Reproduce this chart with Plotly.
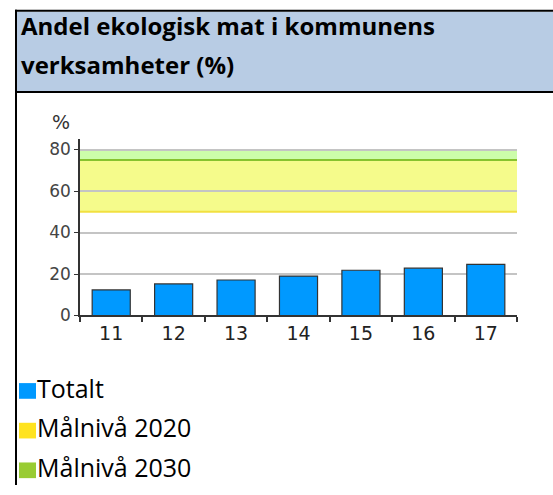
import plotly.graph_objects as go

W, H = 553, 495

# ---- data ----
years = ["11", "12", "13", "14", "15", "16", "17"]
totalt = [12.3, 15.2, 17.1, 19.0, 21.8, 22.8, 24.6]
mal_2020 = [50, 75]   # band (from, to)
mal_2030 = [75, 80]   # band (from, to)
y_ticks = [0, 20, 40, 60, 80]
legend_names = ["Totalt", "Målnivå 2020", "Målnivå 2030"]
legend_colors = ["#0099FF", "#FFE31F", "#99CC33"]
title_lines = ["Andel ekologisk mat i kommunens", "verksamheter (%)"]
unit_label = "%"


def px(x):
    return x / W


def py(y):
    return 1 - y / H


fig = go.Figure(
    go.Bar(
        x=years,
        y=totalt,
        width=0.61,
        marker=dict(color="#0099FF", line=dict(color="#333333", width=1.2)),
        showlegend=False,
        hoverinfo="x+y",
    )
)

shapes = []
# header background and borders
shapes.append(dict(type="rect", xref="paper", yref="paper",
                   x0=px(16), x1=px(553), y0=py(93), y1=py(12),
                   fillcolor="#B8CCE4", line=dict(width=0), layer="below"))
shapes.append(dict(type="line", xref="paper", yref="paper",
                   x0=px(15), x1=px(553), y0=py(11), y1=py(11),
                   line=dict(color="#000000", width=2)))
shapes.append(dict(type="line", xref="paper", yref="paper",
                   x0=px(15), x1=px(553), y0=py(94), y1=py(94),
                   line=dict(color="#000000", width=2)))
shapes.append(dict(type="line", xref="paper", yref="paper",
                   x0=px(16), x1=px(16), y0=py(10), y1=py(495),
                   line=dict(color="#000000", width=2)))

# target bands
shapes.append(dict(type="rect", xref="x domain", yref="y",
                   x0=0, x1=1, y0=mal_2020[0], y1=mal_2020[1],
                   fillcolor="#F5FB8B", line=dict(width=0), layer="below"))
shapes.append(dict(type="rect", xref="x domain", yref="y",
                   x0=0, x1=1, y0=mal_2030[0], y1=mal_2030[1],
                   fillcolor="#CCFDAA", line=dict(width=0), layer="below"))
shapes.append(dict(type="line", xref="x domain", yref="y",
                   x0=0, x1=1, y0=mal_2020[0], y1=mal_2020[0],
                   line=dict(color="#F2E040", width=2), layer="below"))
shapes.append(dict(type="line", xref="x domain", yref="y",
                   x0=0, x1=1, y0=mal_2030[0], y1=mal_2030[0],
                   line=dict(color="#86C22E", width=2), layer="below"))

annotations = []
# title
for i, line in enumerate(title_lines):
    annotations.append(dict(
        text="<b>" + line + "</b>", xref="paper", yref="paper",
        x=px(19), y=py(38 + 40 * i), xanchor="left", yanchor="bottom",
        showarrow=False, font=dict(family="Open Sans", size=24, color="#000000"),
        yshift=-7,
    ))

# unit label
annotations.append(dict(
    text=unit_label, xref="paper", yref="paper", x=px(61), y=py(125),
    xanchor="center", yanchor="middle", showarrow=False,
    font=dict(family="DejaVu Sans", size=19, color="#333333"),
))

# legend (squares + labels)
for i, (name, col) in enumerate(zip(legend_names, legend_colors)):
    base = 407 + 40.5 * i
    shapes.append(dict(type="rect", xref="paper", yref="paper",
                       x0=px(19), x1=px(36), y0=py(base), y1=py(base - 16),
                       fillcolor=col, line=dict(width=0)))
    annotations.append(dict(
        text=name, xref="paper", yref="paper",
        x=px(35), y=py(base), xanchor="left", yanchor="bottom",
        showarrow=False, font=dict(family="Open Sans", size=25, color="#000000"),
        yshift=-8,
    ))

fig.update_layout(
    width=W, height=H,
    margin=dict(l=0, r=0, t=0, b=0),
    paper_bgcolor="#FFFFFF", plot_bgcolor="#FFFFFF",
    shapes=shapes, annotations=annotations,
    bargap=0.39,
    xaxis=dict(
        domain=[px(80), px(517)], type="category", range=[-0.5, 6.5],
        tickson="boundaries", ticks="outside", ticklen=5, tickcolor="#333333",
        tickwidth=1.5, showline=True, linecolor="#333333", linewidth=1.5,
        showgrid=False, zeroline=False,
        tickfont=dict(family="DejaVu Sans", size=19, color="#222222"),
    ),
    yaxis=dict(
        domain=[py(322), py(142)], range=[0, 85], tickmode="array",
        tickvals=y_ticks, ticks="outside", ticklen=4, tickcolor="#333333",
        showline=True, linecolor="#333333", linewidth=1.5,
        gridcolor="#C4C4C4", gridwidth=1.5, zeroline=False,
        tickfont=dict(family="DejaVu Sans", size=17, color="#444444"),
    ),
)

fig.write_html(
    "out.html",
    config={"displayModeBar": False},
    post_script="document.body.style.margin='0';"
                "document.documentElement.style.overflow='hidden';",
)
